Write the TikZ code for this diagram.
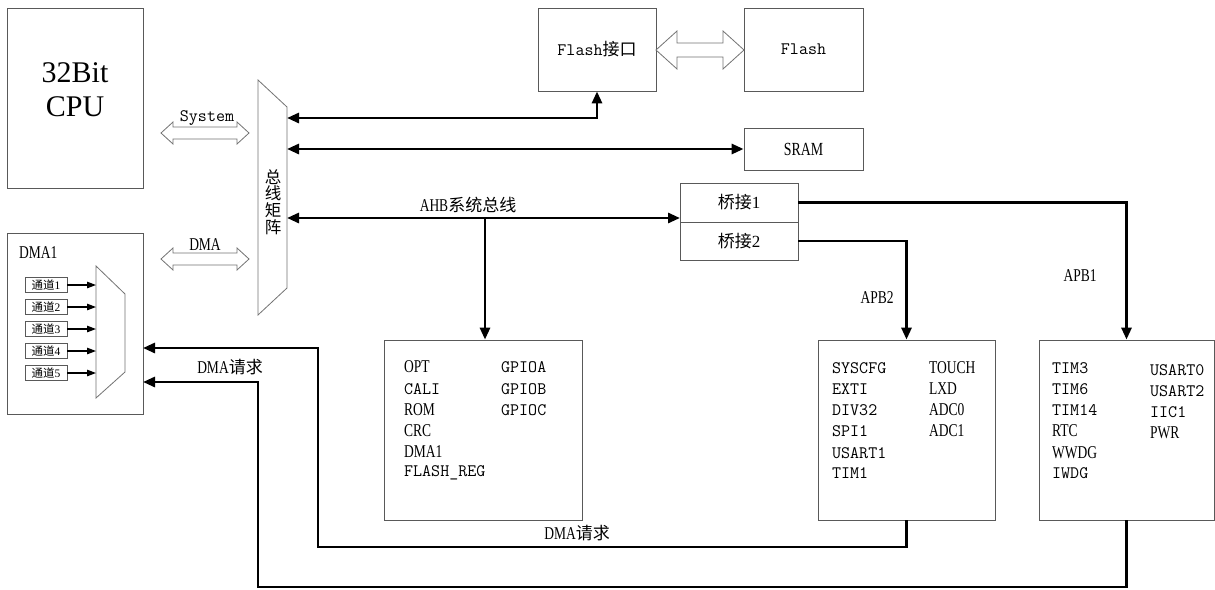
\documentclass[tikz,border=0pt]{standalone}
\usepackage{fontspec}
\setmainfont{Liberation Serif}
\newfontfamily\cjk{Noto Sans CJK SC}
\newcommand{\mono}{\ttfamily}
\newfontfamily\cond[FakeStretch=0.75]{Liberation Serif}
\usetikzlibrary{arrows.meta}
\newcommand{\hollowdbl}[6]{%
  \draw[hollow] (#1,#3) -- (#1+#6,#3-#5) -- (#1+#6,#3-#4) -- (#2-#6,#3-#4) -- (#2-#6,#3-#5) -- (#2,#3)
   -- (#2-#6,#3+#5) -- (#2-#6,#3+#4) -- (#1+#6,#3+#4) -- (#1+#6,#3+#5) -- cycle;}
\tikzset{
  box/.style={draw=black!65, line width=0.8pt, fill=white, inner sep=0pt},
  hollow/.style={draw=black!55, line width=0.8pt, fill=white},
  conn/.style={line width=2.8pt, draw=black},
  >={Triangle[length=12pt,width=10pt]},
  mt/.style={font=\mono\fontsize{17.5}{18}\selectfont, anchor=west, inner sep=0pt},
  ct/.style={font=\cond\fontsize{18}{19}\selectfont, anchor=west, inner sep=0pt},
  lbl/.style={inner sep=0pt},
  chbox/.style={box, minimum width=42pt, minimum height=15pt, font=\fontsize{11.5}{12}\selectfont},
}
\begin{document}
\begin{tikzpicture}[x=1pt,y=-1pt]
\useasboundingbox (0,0) rectangle (1215,589);

% CPU
\node[box, minimum width=136pt, minimum height=180pt] (cpu) at (75,98) {};
\node[lbl, font=\fontsize{30}{34}\selectfont, align=center] (cputxt) at (75,90) {32Bit\\CPU};

% hollow arrows
\hollowdbl{161}{249}{133}{6}{11}{12}
\node[lbl, font=\mono\fontsize{17.5}{18}\selectfont] (sys) at (207,118) {System};
\hollowdbl{161}{249}{259}{6}{11}{12}
\node[lbl, font=\cond\fontsize{18}{19}\selectfont] (dmal) at (205,245) {DMA};

% bus matrix
\draw[hollow] (258,80) -- (287,107) -- (287,288) -- (258,315) -- cycle;
\node[lbl, align=center, font=\cjk\fontsize{16.5}{16.7}\selectfont] (mtx) at (273,202) {总\\线\\矩\\阵};
\coordinate (m1) at (287,118);
\coordinate (m2) at (287,149);
\coordinate (m3) at (287,218);

% Flash
\node[box, minimum width=118pt, minimum height=83pt] (flashif) at (597,49.5) {{\mono\fontsize{17.5}{18}\selectfont Flash}{\cjk\fontsize{17}{17}\selectfont 接口}};
\node[box, minimum width=119pt, minimum height=83pt, font=\mono\fontsize{17.5}{18}\selectfont] (flash) at (803.5,49.5) {Flash};
\hollowdbl{656}{744}{50}{7}{19}{21}
\node[box, minimum width=119pt, minimum height=42pt, font=\cond\fontsize{18.5}{19}\selectfont] (sram) at (803.5,149) {SRAM};

% bridges
\node[box, minimum width=118pt, minimum height=39pt, font=\fontsize{17}{18}\selectfont] (br1) at (739,202.5) {{\cjk 桥接}1};
\node[box, minimum width=118pt, minimum height=38pt, font=\fontsize{17}{18}\selectfont] (br2) at (739,241) {{\cjk 桥接}2};
\coordinate (brin) at (680,218);

% peripheral boxes
\node[box, minimum width=198pt, minimum height=180pt] (ahb) at (483,430) {};
\node[box, minimum width=177pt, minimum height=180pt] (apb2) at (906.5,430) {};
\node[box, minimum width=175pt, minimum height=180pt] (apb1) at (1126.5,430) {};

% AHB box texts
\node[ct] (a1) at (404,367) {OPT};
\node[mt] (a2) at (404,389) {CALI};
\node[ct] (a3) at (404,410) {ROM};
\node[ct] (a4) at (404,431) {CRC};
\node[ct] (a5) at (404,452) {DMA1};
\node[mt] (a6) at (404,473) {FLASH\_REG};
\node[mt] (a7) at (501,367) {GPIOA};
\node[mt] (a8) at (501,389) {GPIOB};
\node[mt] (a9) at (501,410) {GPIOC};

% APB2 box texts
\node[mt] (b1) at (832,368) {SYSCFG};
\node[mt] (b2) at (832,389) {EXTI};
\node[mt] (b3) at (832,410) {DIV32};
\node[mt] (b4) at (832,431) {SPI1};
\node[mt] (b5) at (832,453) {USART1};
\node[mt] (b6) at (832,473) {TIM1};
\node[ct] (b7) at (929,368) {TOUCH};
\node[ct] (b8) at (929,389) {LXD};
\node[ct] (b9) at (929,410) {ADC0};
\node[ct] (b10) at (929,431) {ADC1};

% APB1 box texts
\node[mt] (c1) at (1052,368) {TIM3};
\node[mt] (c2) at (1052,389) {TIM6};
\node[mt] (c3) at (1052,410) {TIM14};
\node[ct] (c4) at (1052,431) {RTC};
\node[ct] (c5) at (1052,453) {WWDG};
\node[mt] (c6) at (1052,473) {IWDG};
\node[mt] (c7) at (1150,370) {USART0};
\node[mt] (c8) at (1150,391) {USART2};
\node[mt] (c9) at (1150,412) {IIC1};
\node[ct] (c10) at (1150,433) {PWR};

% DMA1 box
\node[box, minimum width=136pt, minimum height=181pt] (dma1) at (75,323.5) {};
\node[ct, font=\cond\fontsize{18}{18}\selectfont] (dma1t) at (19,253) {DMA1};
\draw[hollow] (96,266) -- (125,294) -- (125,372) -- (96,398) -- cycle;
\foreach \i/\y in {1/285,2/307,3/329,4/351,5/373}{
  \node[chbox] (ch\i) at (46,\y) {{\cjk 通道}\i};
  \coordinate (mx\i) at (96,\y);
  \draw[line width=1.2pt, -{Triangle[length=9pt,width=6.5pt]}] (ch\i.east) -- (mx\i);
}
\coordinate (d1) at (143,348);
\coordinate (d2) at (143,382);
\coordinate (r1) at (318,547);
\coordinate (r2) at (258,587);

% bus connectors
\draw[conn, <->] (m1) -| (flashif.south);
\draw[conn, <->] (m2) -- (sram.west);
\draw[conn, <->] (m3) -- (brin);
\coordinate (ahbj) at (485,218);
\draw[conn, ->] (ahbj) -- (ahbj |- ahb.north);
\node[lbl, font=\fontsize{18}{18}\selectfont] (ahbl) at (468,205) {{\cond AHB}{\cjk\fontsize{17}{17}\selectfont 系统总线}};
\draw[conn, ->] (br1.east) -| (apb1.north);
\draw[conn, ->] (br2.east) -| (apb2.north);
\node[lbl, font=\cond\fontsize{18}{18}\selectfont] (apb2l) at (877,298) {APB2};
\node[lbl, font=\cond\fontsize{18}{18}\selectfont] (apb1l) at (1080,276) {APB1};

% DMA request lines
\draw[conn, ->] (apb2.south) |- (r1) |- (d1);
\draw[conn, ->] (apb1.south) |- (r2) |- (d2);
\node[lbl, font=\fontsize{18}{18}\selectfont] (req1) at (230,367) {{\cond DMA}{\cjk\fontsize{17}{17}\selectfont 请求}};
\node[lbl, font=\fontsize{18}{18}\selectfont] (req2) at (577,533) {{\cond DMA}{\cjk\fontsize{17}{17}\selectfont 请求}};
\end{tikzpicture}
\end{document}
